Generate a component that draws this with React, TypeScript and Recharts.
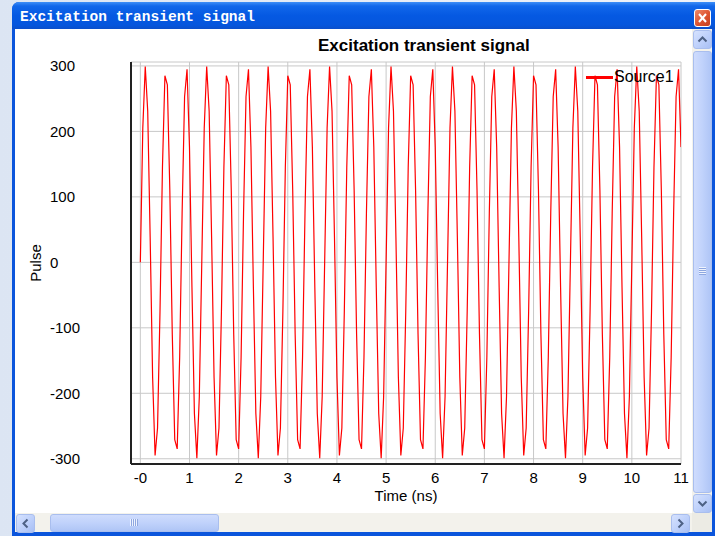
import { LineChart, Line, XAxis, YAxis, CartesianGrid } from "recharts";

// samples every 0.05 ns (about 8.3 samples per cycle)
const SAMPLE_STEP_NS = 0.05;

const pulse = [
    0, 205, 299, 231, 38, -176, -295, -253, -75, 145, 285, 271, 110, -110, -271, -285, -145, 75, 253, 295, 176, -38, -231, -299, -205,
    0, 205, 299, 231, 38, -176, -295, -253, -75, 145, 285, 271, 110, -110, -271, -285, -145, 75, 253, 295, 176, -38, -231, -299, -205,
    0, 205, 299, 231, 38, -176, -295, -253, -75, 145, 285, 271, 110, -110, -271, -285, -145, 75, 253, 295, 176, -38, -231, -299, -205,
    0, 205, 299, 231, 38, -176, -295, -253, -75, 145, 285, 271, 110, -110, -271, -285, -145, 75, 253, 295, 176, -38, -231, -299, -205,
    0, 205, 299, 231, 38, -176, -295, -253, -75, 145, 285, 271, 110, -110, -271, -285, -145, 75, 253, 295, 176, -38, -231, -299, -205,
    0, 205, 299, 231, 38, -176, -295, -253, -75, 145, 285, 271, 110, -110, -271, -285, -145, 75, 253, 295, 176, -38, -231, -299, -205,
    0, 205, 299, 231, 38, -176, -295, -253, -75, 145, 285, 271, 110, -110, -271, -285, -145, 75, 253, 295, 176, -38, -231, -299, -205,
    0, 205, 299, 231, 38, -176, -295, -253, -75, 145, 285, 271, 110, -110, -271, -285, -145, 75, 253, 295, 176, -38, -231, -299, -205,
    0, 205, 299, 231, 38, -176, -295, -253, -75, 145, 285, 271, 110, -110, -271, -285, -145, 75, 253, 295, 176,
];

const xTicks = [0, 1, 2, 3, 4, 5, 6, 7, 8, 9, 10, 11];
const xTickLabels = ["-0", "1", "2", "3", "4", "5", "6", "7", "8", "9", "10", "11"];
const yTicks = [-300, -200, -100, 0, 100, 200, 300];
const xDomain = [-0.19, 11];
const yDomain = [-308, 306];

const windowTitle = "Excitation transient signal";
const chartTitle = "Excitation transient signal";
const seriesName = "Source1";
const xLabel = "Time (ns)";
const yLabel = "Pulse";

const data = pulse.map((v, i) => ({
    time: Math.round(i * SAMPLE_STEP_NS * 100) / 100,
    pulse: v,
}));

const SANS = '"Liberation Sans", Arial, sans-serif';

function Chevron({ dir }: { dir: "up" | "down" | "left" | "right" }) {
    const rot = { up: 0, right: 90, down: 180, left: 270 }[dir];
    return (
        <svg width="17" height="17" style={{ position: "absolute", left: 0, top: 0 }}>
            <polyline
                points="4.5,10.5 8.5,6.5 12.5,10.5"
                fill="none"
                stroke="#4D6185"
                strokeWidth={2}
                transform={`rotate(${rot} 8.5 8.5)`}
            />
        </svg>
    );
}

function ScrollButton({ left, top, dir }: { left: number; top: number; dir: "up" | "down" | "left" | "right" }) {
    return (
        <div
            style={{
                position: "absolute",
                left,
                top,
                width: 17,
                height: 17,
                border: "1px solid #A9BEEE",
                borderRadius: 3,
                background: "linear-gradient(135deg, #D6E2FE 0%, #BDD0FB 55%, #A8BFF4 100%)",
            }}
        >
            <Chevron dir={dir} />
        </div>
    );
}

export default function App() {
    return (
        <div
            style={{
                position: "absolute",
                left: 0,
                top: 0,
                width: 715,
                height: 536,
                overflow: "hidden",
                background: "linear-gradient(90deg, #DCE5F3, #EEF2F9)",
                fontFamily: SANS,
            }}
        >
            {/* window frame */}
            <div style={{ position: "absolute", left: 12, top: 2, width: 710, height: 540, background: "#0B55DC", borderRadius: "7px 7px 0 0" }} />
            <div
                style={{
                    position: "absolute",
                    left: 12,
                    top: 2,
                    width: 710,
                    height: 27,
                    borderRadius: "7px 7px 0 0",
                    background: "linear-gradient(#3D8EF7 0%, #1167EA 15%, #0559E2 50%, #0556DD 85%, #0A4FCB 100%)",
                }}
            />
            <div
                style={{
                    position: "absolute",
                    left: 20,
                    top: 9,
                    height: 17,
                    lineHeight: "17px",
                    color: "#fff",
                    fontFamily: '"Liberation Mono", "DejaVu Sans Mono", monospace',
                    fontWeight: "bold",
                    fontSize: 14.5,
                    whiteSpace: "nowrap",
                }}
            >
                {windowTitle}
            </div>
            {/* close button */}
            <div
                style={{
                    position: "absolute",
                    left: 694,
                    top: 9,
                    width: 15,
                    height: 16,
                    border: "1px solid #fff",
                    borderRadius: 3,
                    background: "linear-gradient(135deg, #F08A6A 0%, #DD5330 55%, #C4401F 100%)",
                }}
            >
                <svg width="15" height="16" style={{ position: "absolute", left: 0, top: 0 }}>
                    <line x1="4" y1="4" x2="11" y2="12" stroke="#fff" strokeWidth={2} />
                    <line x1="11" y1="4" x2="4" y2="12" stroke="#fff" strokeWidth={2} />
                </svg>
            </div>

            {/* client area */}
            <div style={{ position: "absolute", left: 15, top: 29, width: 677, height: 484, background: "#fff" }} />

            <div
                style={{
                    position: "absolute",
                    left: 318,
                    top: 36,
                    width: 211,
                    textAlign: "center",
                    fontSize: 17,
                    fontWeight: "bold",
                    lineHeight: "20px",
                    color: "#000",
                    whiteSpace: "nowrap",
                }}
            >
                {chartTitle}
            </div>

            <div style={{ position: "absolute", left: 15, top: 29 }}>
                <LineChart width={677} height={484} data={data} margin={{ top: 33, right: 11, bottom: 9, left: 0 }}>
                    <CartesianGrid stroke="#C8C8C8" />
                    <XAxis
                        dataKey="time"
                        type="number"
                        domain={xDomain}
                        ticks={xTicks}
                        interval={0}
                        allowDataOverflow
                        height={40}
                        tickSize={0}
                        tickMargin={8}
                        tickFormatter={(v) => xTickLabels[xTicks.indexOf(v)]}
                        tick={{ fill: "#000", fontSize: 15, fontFamily: SANS }}
                        axisLine={{ stroke: "#222", strokeWidth: 2 }}
                        label={{ value: xLabel, position: "insideBottom", offset: 3, fill: "#000", fontSize: 15, fontFamily: SANS }}
                    />
                    <XAxis
                        xAxisId="top"
                        dataKey="time"
                        type="number"
                        orientation="top"
                        domain={xDomain}
                        allowDataOverflow
                        height={0}
                        tick={false}
                        tickLine={false}
                        axisLine={{ stroke: "#555", strokeWidth: 2 }}
                    />
                    <YAxis
                        type="number"
                        domain={yDomain}
                        ticks={yTicks}
                        interval={0}
                        allowDataOverflow
                        width={116}
                        tickSize={0}
                        tickMargin={81}
                        tick={{ fill: "#000", fontSize: 15, fontFamily: SANS, textAnchor: "start" }}
                        axisLine={{ stroke: "#222", strokeWidth: 2 }}
                        label={{
                            value: yLabel,
                            angle: -90,
                            position: "insideLeft",
                            offset: 21,
                            fill: "#000",
                            fontSize: 15,
                            fontFamily: SANS,
                            style: { textAnchor: "middle" },
                        }}
                    />
                    <YAxis
                        yAxisId="right"
                        type="number"
                        orientation="right"
                        domain={yDomain}
                        allowDataOverflow
                        width={0}
                        tick={false}
                        tickLine={false}
                        axisLine={{ stroke: "#555", strokeWidth: 2 }}
                    />
                    <Line
                        type="linear"
                        dataKey="pulse"
                        name={seriesName}
                        stroke="#FF0000"
                        strokeWidth={1.2}
                        dot={false}
                        isAnimationActive={false}
                    />
                </LineChart>
            </div>

            {/* legend */}
            <div style={{ position: "absolute", left: 586, top: 76, width: 27, height: 3, background: "#FF0000" }} />
            <div style={{ position: "absolute", left: 614, top: 69, fontSize: 16, lineHeight: "16px", color: "#000" }}>
                {seriesName}
            </div>

            {/* vertical scrollbar */}
            <div style={{ position: "absolute", left: 692, top: 29, width: 20, height: 484, background: "#F3F2EC" }} />
            <ScrollButton left={693} top={30} dir="up" />
            <div
                style={{
                    position: "absolute",
                    left: 693,
                    top: 51,
                    width: 17,
                    height: 440,
                    border: "1px solid #A9BEEE",
                    borderRadius: 3,
                    background: "linear-gradient(90deg, #CFDCFD 0%, #C0D2FB 50%, #AFC5F6 100%)",
                }}
            >
                <svg width="17" height="440" style={{ position: "absolute", left: 0, top: 0 }}>
                    {[0, 2, 4, 6].map((d) => (
                        <line key={d} x1="5" x2="12" y1={215.5 + d} y2={215.5 + d} stroke="#EEF3FE" strokeWidth={1} />
                    ))}
                    {[1, 3, 5, 7].map((d) => (
                        <line key={d} x1="5" x2="12" y1={215.5 + d} y2={215.5 + d} stroke="#8EA7E0" strokeWidth={1} />
                    ))}
                </svg>
            </div>
            <ScrollButton left={693} top={494} dir="down" />

            {/* horizontal scrollbar */}
            <div style={{ position: "absolute", left: 15, top: 513, width: 677, height: 19, background: "#F3F2EC" }} />
            <ScrollButton left={16} top={514} dir="left" />
            <div
                style={{
                    position: "absolute",
                    left: 50,
                    top: 514,
                    width: 167,
                    height: 16,
                    border: "1px solid #A9BEEE",
                    borderRadius: 3,
                    background: "linear-gradient(#CFDCFD 0%, #C0D2FB 50%, #AFC5F6 100%)",
                }}
            >
                <svg width="167" height="16" style={{ position: "absolute", left: 0, top: 0 }}>
                    {[0, 2, 4, 6].map((d) => (
                        <line key={d} y1="4" y2="11" x1={79.5 + d} x2={79.5 + d} stroke="#EEF3FE" strokeWidth={1} />
                    ))}
                    {[1, 3, 5, 7].map((d) => (
                        <line key={d} y1="4" y2="11" x1={79.5 + d} x2={79.5 + d} stroke="#8EA7E0" strokeWidth={1} />
                    ))}
                </svg>
            </div>
            <ScrollButton left={671} top={514} dir="right" />
            <div style={{ position: "absolute", left: 692, top: 513, width: 20, height: 19, background: "#ECEBE4" }} />
        </div>
    );
}
